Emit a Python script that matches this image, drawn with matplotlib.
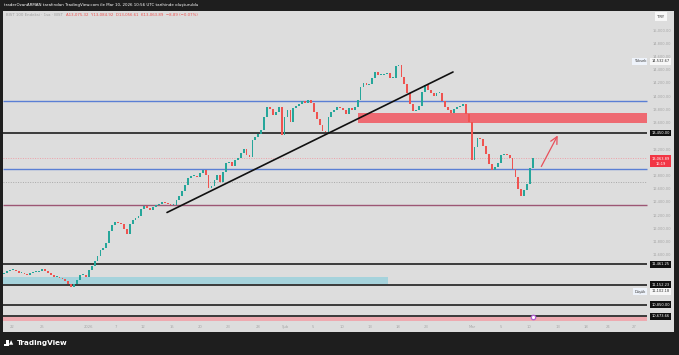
import matplotlib
matplotlib.use("Agg")
import matplotlib.pyplot as plt
from matplotlib.patches import Rectangle
import numpy as np

# ---------------- data ----------------
closes = [
    11329, 11360, 11375, 11375, 11360, 11329, 11329, 11314, 11299, 11329,
    11345, 11345, 11360, 11390, 11360, 11329, 11299, 11269, 11269, 11254,
    11239, 11208, 11163, 11117, 11163, 11223, 11299, 11299, 11269, 11375,
    11435, 11511, 11587, 11678, 11708, 11784, 11966, 12056, 12102, 12087,
    12071, 11996, 11920, 12071, 12132, 12162, 12193, 12299, 12344, 12314,
    12284, 12329, 12359, 12375, 12405, 12390, 12375, 12359, 12359, 12435,
    12496, 12571, 12662, 12768, 12799, 12799, 12784, 12844, 12890, 12814,
    12617, 12647, 12738, 12814, 12708, 12859, 12996, 13011, 12950, 13041,
    13071, 13147, 13208, 13117, 13086, 13344, 13389, 13435, 13495, 13692,
    13844, 13814, 13723, 13768, 13844, 13420, 13692, 13798, 13617, 13829,
    13859, 13889, 13935, 13904, 13950, 13904, 13768, 13662, 13571, 13480,
    13465, 13692, 13768, 13798, 13844, 13829, 13798, 13738, 13829, 13798,
    13844, 13950, 14147, 14207, 14177, 14192, 14283, 14374, 14329, 14329,
    14344, 14359, 14283, 14283, 14465, 14480, 14298, 14192, 14056, 13889,
    13783, 13798, 13859, 14071, 14177, 14101, 14056, 14010, 14056, 14056,
    13935, 13844, 13798, 13753, 13814, 13844, 13859, 13889, 13738, 13617,
    13041, 13238, 13374, 13359, 13253, 13132, 12980, 12890, 12935, 12996,
    13117, 13132, 13117, 13071, 12905, 12784, 12602, 12496, 12587, 12678,
    12920, 13063.89,
]
first_open = 11310

labeled_levels = [13450.00, 11461.25, 11152.23, 10850.00, 10673.66]
blue_levels = [13935, 12905]
mauve_level = 12355
gray_dotted_level = 12708
high_value = 14532.67
low_value = 11102.18
last_price = 13063.89
countdown = "16:19"

red_zone = (13606, 13748)      # price range
cyan_zone = (11160, 11269)
pink_band = (10600, 10673.66)

price_ticks = [15000, 14800, 14600, 14400, 14200, 14000, 13800, 13600,
               13200, 12800, 12600, 12400, 12200, 12000, 11800, 11600]
date_labels = ["22", "25", "2026", "7", "12", "15", "20", "23", "28", "Şub", "5",
               "10", "13", "18", "23", "Mar", "5", "10", "13", "18", "24", "27"]

# ---------------- layout (pixels) ----------------
W, H = 679, 355
fig = plt.figure(figsize=(W / 100, H / 100), dpi=100)
fig.patch.set_facecolor("#1e1e1e")

AX_L, AX_R, AX_T, AX_B = 3, 674, 10.5, 332
ax = fig.add_axes([AX_L / W, (H - AX_B) / H, (AX_R - AX_L) / W, (AX_B - AX_T) / H])
ax.set_facecolor("#dddddd")
for s in ax.spines.values():
    s.set_visible(False)
ax.set_xticks([])
ax.set_yticks([])

n = len(closes)
X0, X1 = 4, 533
S = (X1 - X0) / (n - 1)
def px2x(px):
    return (px - X0) / S

# price <-> pixel: 13450 at y=133, 0.06602 px per unit
def py2p(py):
    return 13450 - (py - 133) / 0.06602

ax.set_xlim(px2x(AX_L), px2x(AX_R))
ax.set_ylim(py2p(AX_B), py2p(AX_T))

LINE_END = px2x(647)
XL = px2x(AX_L)

# zones
ax.add_patch(Rectangle((px2x(358), red_zone[0]), LINE_END - px2x(358), red_zone[1] - red_zone[0],
                       facecolor="#ee6a72", edgecolor="none", zorder=1))
ax.add_patch(Rectangle((XL, cyan_zone[0]), px2x(388) - XL, cyan_zone[1] - cyan_zone[0],
                       facecolor="#a6d3dc", edgecolor="none", zorder=1))
ax.add_patch(Rectangle((XL, pink_band[0]), LINE_END - XL, pink_band[1] - pink_band[0],
                       facecolor="#eeaab0", edgecolor="none", zorder=1))

# horizontal levels
for lv in labeled_levels:
    ax.hlines(lv, XL, LINE_END, color="#3a3a3a", lw=1.4, zorder=2)
for lv in blue_levels:
    ax.hlines(lv, XL, LINE_END, color="#5a7fd4", lw=1.0, zorder=2)
ax.hlines(mauve_level, XL, LINE_END, color="#9c5674", lw=1.0, zorder=2)
ax.hlines(gray_dotted_level, XL, LINE_END, color="#a9a9a9", lw=0.7, ls=(0, (1, 1.5)), zorder=2)
ax.hlines(last_price, XL, LINE_END, color="#eda0a8", lw=0.7, ls=(0, (1, 1.5)), zorder=2)

# candles
opens = [first_open] + closes[:-1]
xs = np.arange(n)
o = np.array(opens, dtype=float)
c = np.array(closes, dtype=float)
up = c >= o
bottom = np.minimum(o, c)
height = np.maximum(np.abs(c - o), 10)
ax.bar(xs[up], height[up], bottom=bottom[up], width=0.62, color="#26a69a", zorder=3, linewidth=0)
ax.bar(xs[~up], height[~up], bottom=bottom[~up], width=0.62, color="#ef5350", zorder=3, linewidth=0)

# trend line (drawn object)
trend_x = [px2x(167), px2x(453)]
trend_p = [12246, 14374]
ax.plot(trend_x, trend_p, color="#111111", lw=1.2, zorder=4, solid_capstyle="round")

# projection arrow
ax.annotate("", xy=(px2x(559), 13450), xytext=(px2x(540), 12905),
            arrowprops=dict(arrowstyle="->,head_length=0.5,head_width=0.25", color="#e8505b", lw=0.9),
            zorder=5)

# price scale labels
PS_X = px2x(671)
for t in price_ticks:
    ax.text(PS_X, t, f"{t:,.2f}", fontsize=2.6, color="#a6a6a6", ha="right", va="center", zorder=6)

def level_box(price, txt, fc="#111111", tc="white"):
    ax.text(px2x(660.5), price, txt, fontsize=2.6, color=tc, ha="center", va="center", zorder=8,
            bbox=dict(boxstyle="square,pad=0.35", fc=fc, ec="none"))

for lv in labeled_levels:
    level_box(lv, f"{lv:,.2f}")

# current price box
ax.text(px2x(660.5), last_price - 40, f"{last_price:,.2f}\n{countdown}", fontsize=2.6, color="white",
        ha="center", va="center", zorder=8, linespacing=1.3,
        bbox=dict(boxstyle="square,pad=0.4", fc="#f23645", ec="none"))

# high / low labels (label rows as placed by the price scale)
for val, name, row_py in [(high_value, "Yüksek", 61.5), (low_value, "Düşük", 291.5)]:
    yp = py2p(row_py)
    ax.text(px2x(660.5), yp, f"{val:,.2f}",
            fontsize=2.6, color="#333333", ha="center", va="center", zorder=8,
            bbox=dict(boxstyle="square,pad=0.35", fc="#f7f7f7", ec="none"))
    ax.text(px2x(646), yp, name, fontsize=2.6, color="#333333", ha="right", va="center", zorder=8,
            bbox=dict(boxstyle="square,pad=0.35", fc="#eef3fb", ec="none"))

# currency box
ax.text(px2x(661), py2p(16.5), "TRY", fontsize=2.8, color="#333333", ha="center", va="center", zorder=8,
        bbox=dict(boxstyle="square,pad=0.6", fc="#f7f7f7", ec="none"))

# date axis labels
date_px = [12, 42, 88, 116, 143, 172, 200, 228, 258, 285, 313, 342, 370, 398, 426,
           472, 501, 529, 558, 586, 608, 634]
for lab, px in zip(date_labels, date_px):
    ax.text(px2x(px), py2p(327), lab, fontsize=2.7, color="#a6a6a6", ha="center", va="center", zorder=6)

# current time marker
ax.plot([px2x(533)], [py2p(317)], marker="o", ms=3.2, mfc="white", mec="#b060d0", mew=0.9, zorder=9,
        clip_on=False)

# header / legend texts
fig.text(4 / W, 1 - 5 / H,
         "traderOzanARMAN tarafından TradingView.com ile Mar 10, 2026 10:56 UTC tarihinde oluşturuldu",
         fontsize=2.9, color="white", ha="left", va="center")
fig.text(6 / W, 1 - 15.5 / H, "BIST 100 Endeksi · 1sa · BIST", fontsize=2.8, color="#a0a0a0",
         ha="left", va="center")
fig.text(66 / W, 1 - 15.5 / H,
         "A13,075.32  Y13,084.92  D13,056.61  K13,063.89  −8.89 (−0.07%)",
         fontsize=2.8, color="#ef5350", ha="left", va="center")

# TradingView footer logo
fig.patches.append(Rectangle((4 / W, 1 - 346 / H), 5 / W, 2.2 / H, transform=fig.transFigure,
                             fc="white", ec="none"))
fig.patches.append(Rectangle((6.3 / W, 1 - 346 / H), 2.2 / W, 6 / H, transform=fig.transFigure,
                             fc="white", ec="none"))
fig.text(11.5 / W, 1 - 343 / H, "▲", fontsize=4, color="white", ha="center", va="center")
fig.text(17 / W, 1 - 343 / H, "TradingView", fontsize=5.2, color="white", fontweight="bold",
         ha="left", va="center")

fig.savefig("out.png", dpi=100, facecolor=fig.get_facecolor())
